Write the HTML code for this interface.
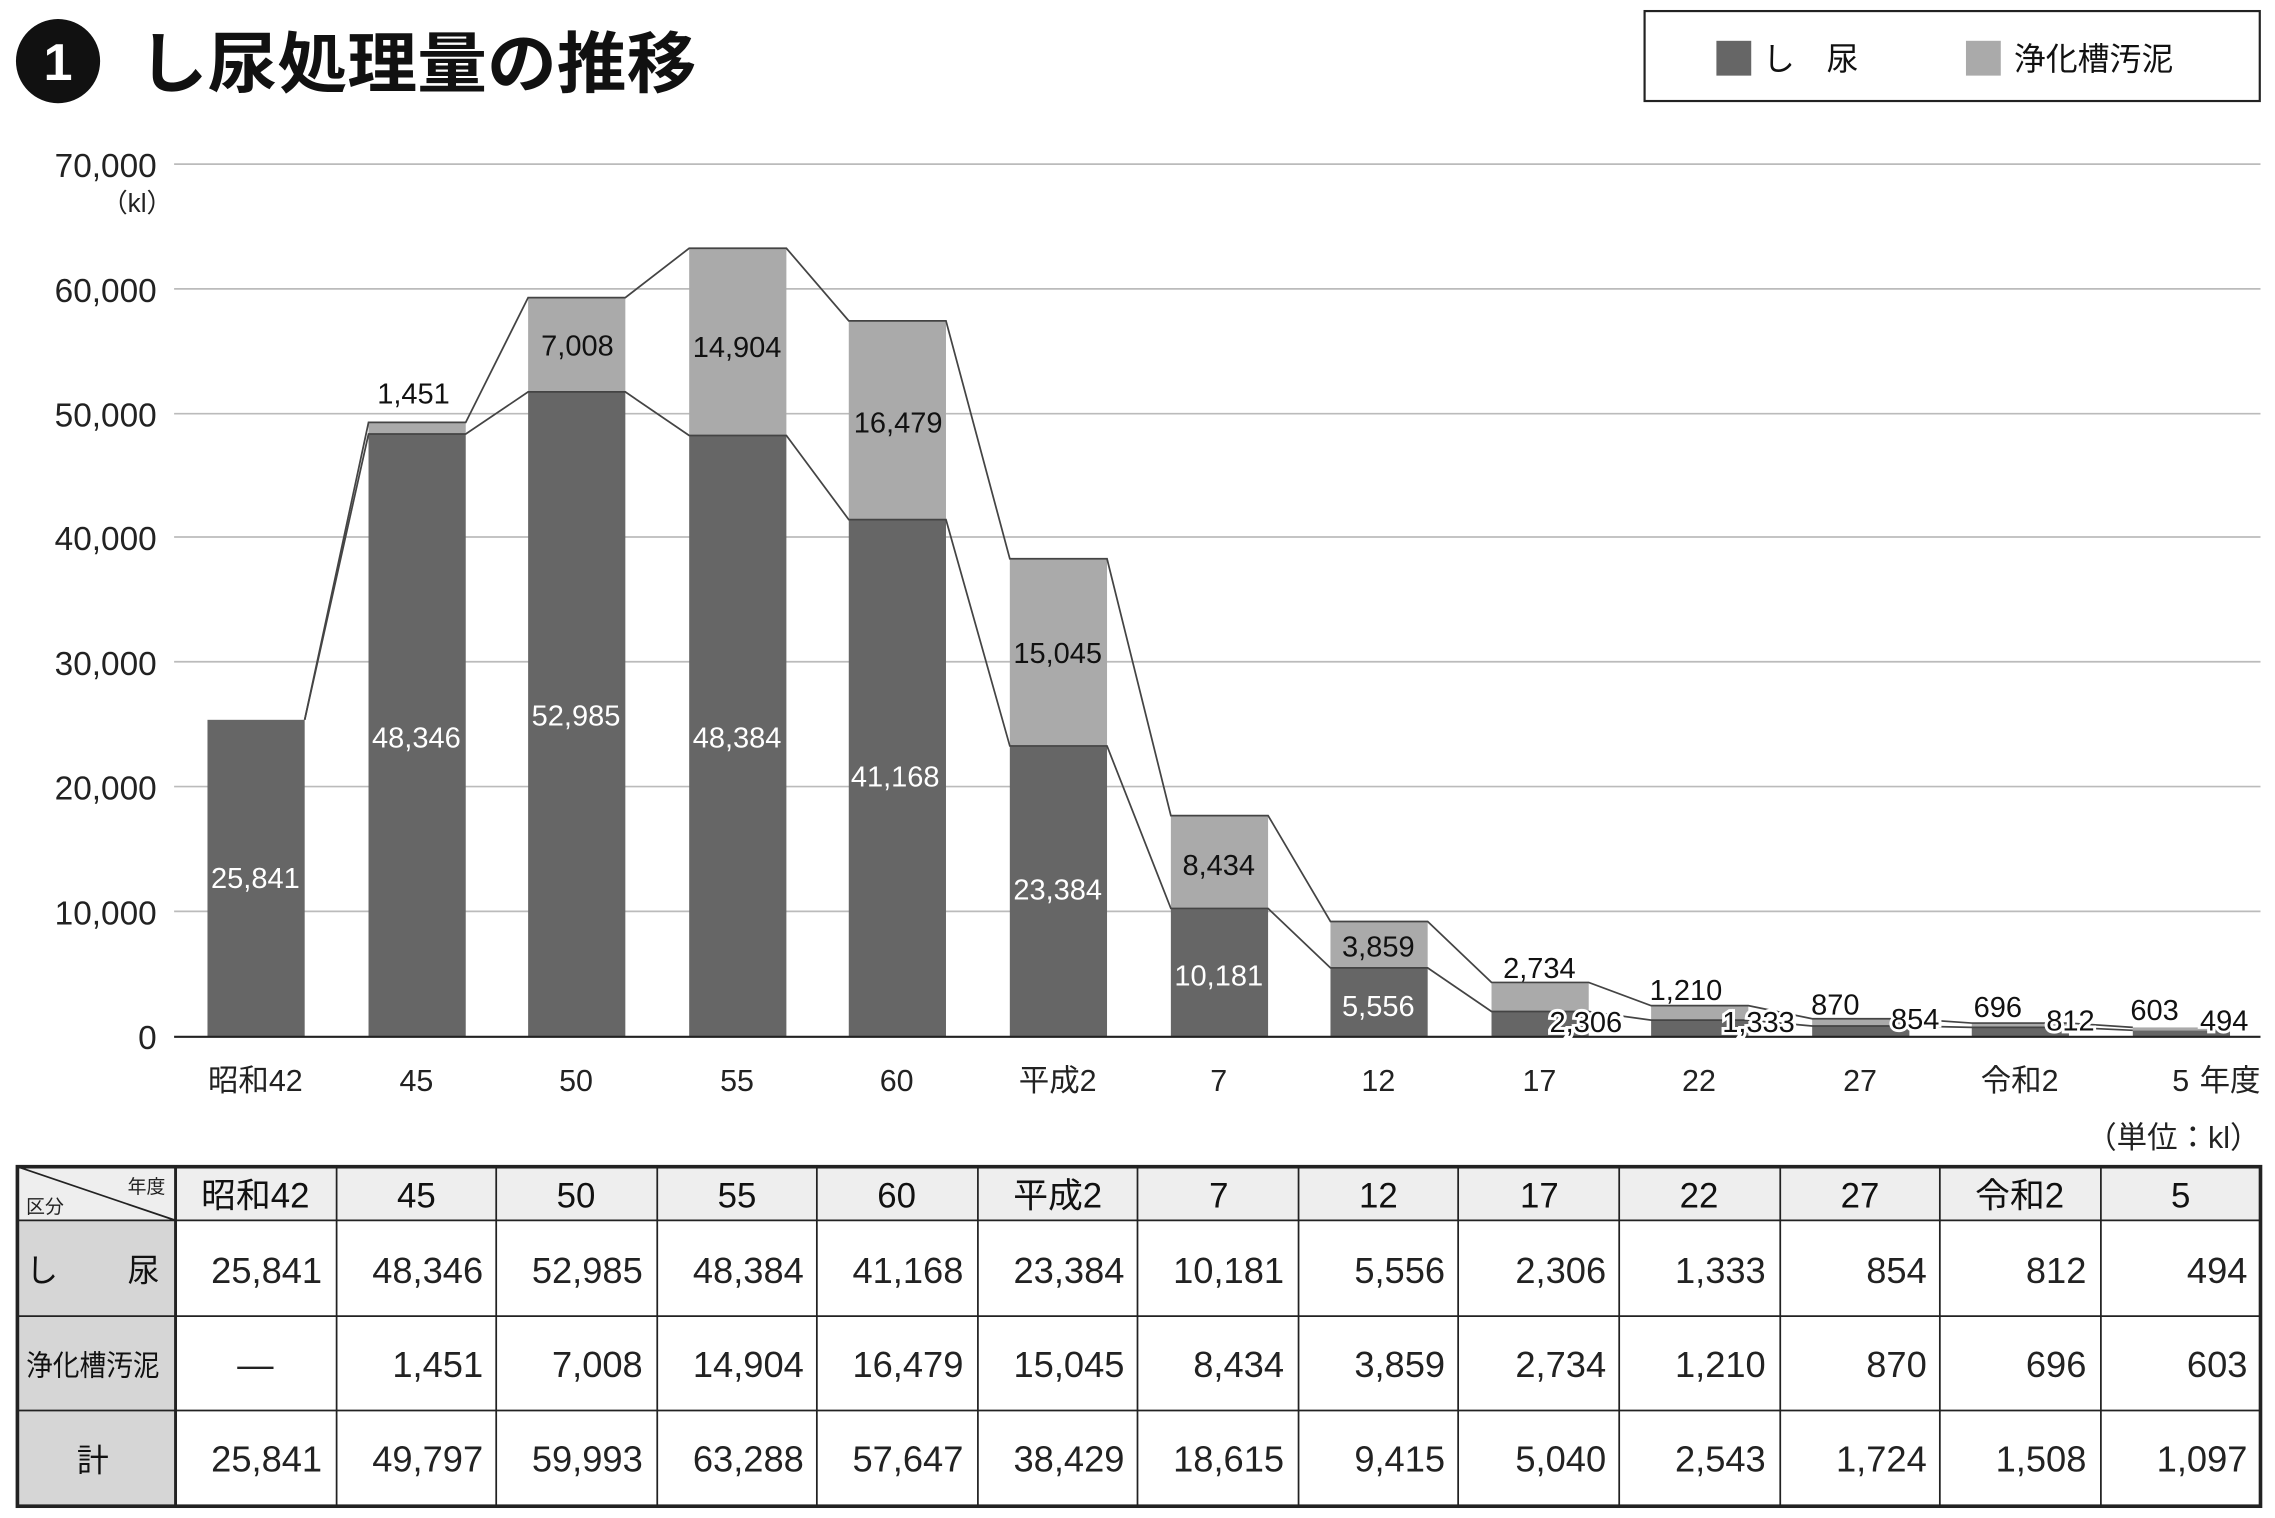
<!DOCTYPE html>
<html><head><meta charset="utf-8"><style>
html,body{margin:0;padding:0;background:#fff}
svg{display:block}
text{font-family:"Liberation Sans","Noto Sans CJK JP",sans-serif}
</style></head><body>
<svg width="2275" height="1518" viewBox="0 0 1568 1046" xmlns="http://www.w3.org/2000/svg">
<rect width="1568" height="1046" fill="#fff"/>
<!-- title -->
<circle cx="40" cy="42" r="29" fill="#111"/>
<text x="40" y="55" font-size="36" font-weight="bold" fill="#fff" text-anchor="middle">1</text>
<text x="95" y="60" font-size="46" font-weight="bold" fill="#111" textLength="385" lengthAdjust="spacingAndGlyphs">し尿処理量の推移</text>
<!-- legend -->
<rect x="1133.5" y="7.5" width="424" height="62" fill="#fff" stroke="#222" stroke-width="1.5"/>
<rect x="1183" y="28" width="24" height="24" fill="#666"/>
<text x="1215" y="48" font-size="22" fill="#111">し　尿</text>
<rect x="1355" y="28" width="24" height="24" fill="#aaa"/>
<text x="1388" y="48" font-size="22" fill="#111">浄化槽汚泥</text>
<!-- grid -->
<g stroke="#bbb" stroke-width="1.2">
<line x1="120" y1="113" x2="1558" y2="113"/>
<line x1="120" y1="199" x2="1558" y2="199"/>
<line x1="120" y1="285" x2="1558" y2="285"/>
<line x1="120" y1="370" x2="1558" y2="370"/>
<line x1="120" y1="456" x2="1558" y2="456"/>
<line x1="120" y1="542" x2="1558" y2="542"/>
<line x1="120" y1="628" x2="1558" y2="628"/>
</g>
<g font-size="23" fill="#222" text-anchor="end">
<text x="108" y="122">70,000</text>
<text x="108" y="208">60,000</text>
<text x="108" y="294">50,000</text>
<text x="108" y="379">40,000</text>
<text x="108" y="465">30,000</text>
<text x="108" y="551">20,000</text>
<text x="108" y="637">10,000</text>
<text x="108" y="723">0</text>
</g>
<text x="70" y="146" font-size="18" fill="#222">（kl）</text>
<!-- bars -->
<g fill="#666">
<rect x="143" y="496" width="67" height="218"/>
<rect x="254" y="299" width="67" height="415"/>
<rect x="364" y="270" width="67" height="444"/>
<rect x="475" y="300" width="67" height="414"/>
<rect x="585" y="358" width="67" height="356"/>
<rect x="696" y="514" width="67" height="200"/>
<rect x="807" y="626" width="67" height="88"/>
<rect x="917" y="667" width="67" height="47"/>
<rect x="1028" y="697" width="67" height="17"/>
<rect x="1138" y="703" width="67" height="11"/>
<rect x="1249" y="707" width="67" height="7"/>
<rect x="1359" y="708" width="67" height="6"/>
<rect x="1470" y="710" width="67" height="4"/>
</g>
<g fill="#aaa">
<rect x="254" y="291" width="67" height="8"/>
<rect x="364" y="205" width="67" height="65"/>
<rect x="475" y="171" width="67" height="129"/>
<rect x="585" y="221" width="67" height="137"/>
<rect x="696" y="385" width="67" height="129"/>
<rect x="807" y="562" width="67" height="64"/>
<rect x="917" y="635" width="67" height="32"/>
<rect x="1028" y="677" width="67" height="20"/>
<rect x="1138" y="693" width="67" height="10"/>
<rect x="1249" y="702" width="67" height="5"/>
<rect x="1359" y="705" width="67" height="3"/>
<rect x="1470" y="708" width="67" height="2"/>
</g>
<line x1="120" y1="714.5" x2="1558" y2="714.5" stroke="#222" stroke-width="1.5"/>
<!-- connecting lines -->
<g stroke="#444" stroke-width="1.2" fill="none">
<polyline points="210,496 254,299 321,299 364,270 431,270 475,300 542,300 585,358 652,358 696,514 763,514 807,626 874,626 917,667 984,667 1028,697 1095,697 1138,703 1205,703 1249,707 1316,707 1359,708 1426,708 1470,710"/>
<polyline points="210,496 254,291 321,291 364,205 431,205 475,171 542,171 585,221 652,221 696,385 763,385 807,562 874,562 917,635 984,635 1028,677 1095,677 1138,693 1205,693 1249,702 1316,702 1359,705 1426,705 1470,708"/>
</g>
<!-- value labels -->
<g font-size="20" fill="#fff" text-anchor="middle">
<text x="176" y="612">25,841</text>
<text x="287" y="515">48,346</text>
<text x="397" y="500">52,985</text>
<text x="508" y="515">48,384</text>
<text x="617" y="542">41,168</text>
<text x="729" y="620">23,384</text>
<text x="840" y="679">10,181</text>
<text x="950" y="700">5,556</text>
</g>
<g font-size="20" fill="#111" text-anchor="middle" stroke="#fff" stroke-width="4" paint-order="stroke">
<text x="1093" y="711">2,306</text>
<text x="1212" y="711">1,333</text>
<text x="1320" y="709">854</text>
<text x="1427" y="710">812</text>
<text x="1533" y="710">494</text>
</g>
<g font-size="20" fill="#111" text-anchor="middle">
<text x="285" y="278">1,451</text>
<text x="398" y="245">7,008</text>
<text x="508" y="246">14,904</text>
<text x="619" y="298">16,479</text>
<text x="729" y="457">15,045</text>
<text x="840" y="603">8,434</text>
<text x="950" y="659">3,859</text>
<text x="1061" y="674">2,734</text>
<text x="1162" y="689">1,210</text>
<text x="1265" y="699">870</text>
<text x="1377" y="701">696</text>
<text x="1485" y="703">603</text>
</g>
<!-- x labels -->
<g font-size="21" fill="#222" text-anchor="middle">
<text x="176" y="752">昭和42</text>
<text x="287" y="752">45</text>
<text x="397" y="752">50</text>
<text x="508" y="752">55</text>
<text x="618" y="752">60</text>
<text x="729" y="752">平成2</text>
<text x="840" y="752">7</text>
<text x="950" y="752">12</text>
<text x="1061" y="752">17</text>
<text x="1171" y="752">22</text>
<text x="1282" y="752">27</text>
<text x="1392" y="752">令和2</text>
<text x="1503" y="752">5</text>
</g>
<text x="1558" y="752" font-size="21" fill="#222" text-anchor="end">年度</text>
<text x="1558" y="791" font-size="21" fill="#222" text-anchor="end">（単位：kl）</text>
<!-- table -->
<rect x="12" y="804" width="1546" height="37" fill="#eeeeee"/>
<rect x="12" y="841" width="109" height="197" fill="#d6d6d6"/>
<g stroke="#222" stroke-width="1.2">
<line x1="12" y1="841" x2="1558" y2="841"/>
<line x1="12" y1="907" x2="1558" y2="907"/>
<line x1="12" y1="972" x2="1558" y2="972"/>
<line x1="232" y1="804" x2="232" y2="1038"/>
<line x1="342" y1="804" x2="342" y2="1038"/>
<line x1="453" y1="804" x2="453" y2="1038"/>
<line x1="563" y1="804" x2="563" y2="1038"/>
<line x1="674" y1="804" x2="674" y2="1038"/>
<line x1="784" y1="804" x2="784" y2="1038"/>
<line x1="895" y1="804" x2="895" y2="1038"/>
<line x1="1005" y1="804" x2="1005" y2="1038"/>
<line x1="1116" y1="804" x2="1116" y2="1038"/>
<line x1="1227" y1="804" x2="1227" y2="1038"/>
<line x1="1337" y1="804" x2="1337" y2="1038"/>
<line x1="1448" y1="804" x2="1448" y2="1038"/>
<line x1="12" y1="804" x2="121" y2="841"/>
</g>
<line x1="121" y1="804" x2="121" y2="1038" stroke="#222" stroke-width="2"/>
<rect x="12" y="804" width="1546" height="234" fill="none" stroke="#222" stroke-width="2.5"/>
<text x="114" y="822" font-size="13" fill="#222" text-anchor="end">年度</text>
<text x="18" y="836" font-size="13" fill="#222">区分</text>
<g font-size="24" fill="#111" text-anchor="middle">
<text x="176" y="832">昭和42</text>
<text x="287" y="832">45</text>
<text x="397" y="832">50</text>
<text x="508" y="832">55</text>
<text x="618" y="832">60</text>
<text x="729" y="832">平成2</text>
<text x="840" y="832">7</text>
<text x="950" y="832">12</text>
<text x="1061" y="832">17</text>
<text x="1171" y="832">22</text>
<text x="1282" y="832">27</text>
<text x="1392" y="832">令和2</text>
<text x="1503" y="832">5</text>
</g>
<g font-size="22" fill="#111">
<text x="18" y="883">し</text><text x="88" y="883">尿</text>
<text x="18" y="948" font-size="20" textLength="92" lengthAdjust="spacingAndGlyphs">浄化槽汚泥</text>
<text x="53" y="1014">計</text>
</g>
<g font-size="25" fill="#222" text-anchor="end">
<text x="222" y="884">25,841</text><text x="333" y="884">48,346</text><text x="443" y="884">52,985</text><text x="554" y="884">48,384</text><text x="664" y="884">41,168</text><text x="775" y="884">23,384</text><text x="885" y="884">10,181</text><text x="996" y="884">5,556</text><text x="1107" y="884">2,306</text><text x="1217" y="884">1,333</text><text x="1328" y="884">854</text><text x="1438" y="884">812</text><text x="1549" y="884">494</text>
<text x="333" y="949">1,451</text><text x="443" y="949">7,008</text><text x="554" y="949">14,904</text><text x="664" y="949">16,479</text><text x="775" y="949">15,045</text><text x="885" y="949">8,434</text><text x="996" y="949">3,859</text><text x="1107" y="949">2,734</text><text x="1217" y="949">1,210</text><text x="1328" y="949">870</text><text x="1438" y="949">696</text><text x="1549" y="949">603</text>
<text x="222" y="1014">25,841</text><text x="333" y="1014">49,797</text><text x="443" y="1014">59,993</text><text x="554" y="1014">63,288</text><text x="664" y="1014">57,647</text><text x="775" y="1014">38,429</text><text x="885" y="1014">18,615</text><text x="996" y="1014">9,415</text><text x="1107" y="1014">5,040</text><text x="1217" y="1014">2,543</text><text x="1328" y="1014">1,724</text><text x="1438" y="1014">1,508</text><text x="1549" y="1014">1,097</text>
</g>
<text x="176" y="949" font-size="25" fill="#222" text-anchor="middle">—</text>
</svg>
</body></html>
